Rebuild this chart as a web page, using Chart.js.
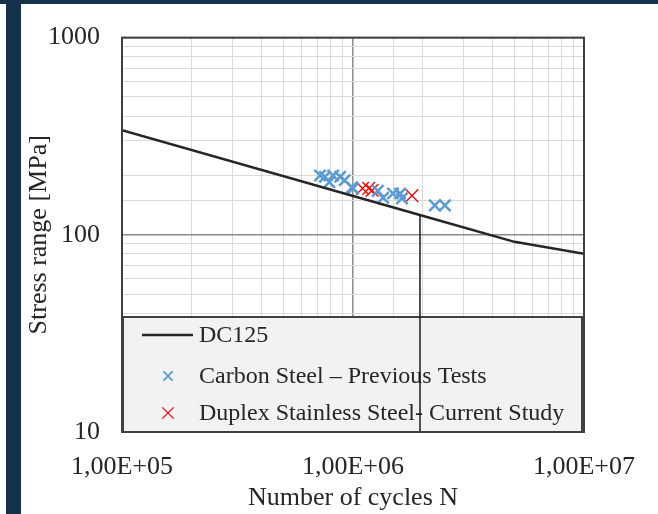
<!DOCTYPE html>
<html lang="en">
<head>
    <meta charset="UTF-8">
    <title>S-N Curve DC125</title>
    <style>
        html, body { margin: 0; padding: 0; background: #ffffff; }
        .wrap { position: relative; width: 658px; height: 514px; overflow: hidden; }
        .bar-top { position: absolute; left: 0; top: 0; width: 658px; height: 4px; background: #14324b; }
        .bar-left { position: absolute; left: 6px; top: 0; width: 15px; height: 514px; background: #14324b; }
        canvas { position: absolute; left: 0; top: 0; }
    </style>
    <script src="https://cdn.jsdelivr.net/npm/chart.js"></script>
</head>
<body>
<div class="wrap">
    <canvas id="snChart" width="658" height="514"></canvas>
    <div class="bar-top"></div>
    <div class="bar-left"></div>
</div>
<script>
    // detail category curve (N, stress range)
    const dcLabel = 'DC125';
    const dcN = [1e5, 2e6, 5e6, 1e7];
    const dcS = [339, 125, 92.1, 80.2];

    // reference line at 2 million cycles
    const refN = [1.95e6, 1.95e6];
    const refS = [126, 10];

    const carbonLabel = 'Carbon Steel – Previous Tests';
    const carbonN = [7.2e5, 7.56e5, 7.9e5, 8.2e5, 8.8e5, 9.2e5, 9.9e5, 1.0e6, 1.28e6, 1.35e6, 1.49e6, 1.6e6, 1.63e6, 2.26e6, 2.5e6];
    const carbonS = [200, 197, 185, 200, 197, 189, 174, 172, 167, 154, 162, 162, 153, 141, 141];

    const duplexLabel = 'Duplex Stainless Steel- Current Study';
    const duplexN = [1.1e6, 1.17e6, 1.21e6, 1.8e6];
    const duplexS = [172, 172, 168, 158];

    const xTickValues = [1e5, 1e6, 1e7];
    const xTickLabels = ['1,00E+05', '1,00E+06', '1,00E+07'];
    const yTickValues = [10, 100, 1000];
    const yTickLabels = ['10', '100', '1000'];

    const pts = (xs, ys) => xs.map((x, i) => ({ x: x, y: ys[i] }));
    const isMajor = (v, list) => list.some(m => Math.abs(v / m - 1) < 1e-6);

    const serif = "'Liberation Serif', 'Times New Roman', serif";
    const textColor = '#262626';

    // legend drawn inside the plot area, under the datasets
    const boxLegend = {
        id: 'boxLegend',
        beforeDatasetsDraw(chart) {
            const ctx = chart.ctx;
            const a = chart.chartArea;
            const x0 = a.left + 1, y0 = 317, x1 = a.right - 2, y1 = a.bottom;
            ctx.save();
            ctx.fillStyle = '#f2f2f2';
            ctx.fillRect(x0, y0, x1 - x0, y1 - y0);
            ctx.strokeStyle = '#404040';
            ctx.lineWidth = 2;
            ctx.strokeRect(x0, y0, x1 - x0, y1 - y0);

            const ds = chart.data.datasets;
            const rows = [335, 376, 413];
            ctx.font = '24px ' + serif;
            ctx.textBaseline = 'middle';
            for (let i = 0; i < 3; i++) {
                const d = ds[i];
                const y = rows[i];
                if (i === 0) {
                    ctx.strokeStyle = d.borderColor;
                    ctx.lineWidth = 2.5;
                    ctx.beginPath();
                    ctx.moveTo(142, y);
                    ctx.lineTo(193, y);
                    ctx.stroke();
                } else {
                    const r = i === 1 ? 6.5 : 8;
                    ctx.strokeStyle = d.borderColor;
                    ctx.lineWidth = i === 1 ? 1.8 : 1.2;
                    ctx.beginPath();
                    ctx.moveTo(168 - r * 0.707, y - r * 0.707);
                    ctx.lineTo(168 + r * 0.707, y + r * 0.707);
                    ctx.moveTo(168 - r * 0.707, y + r * 0.707);
                    ctx.lineTo(168 + r * 0.707, y - r * 0.707);
                    ctx.stroke();
                }
                ctx.fillStyle = textColor;
                ctx.fillText(d.label, 199, y + 1);
            }
            ctx.restore();
        },
        afterDraw(chart) {
            const ctx = chart.ctx;
            const a = chart.chartArea;
            ctx.save();
            ctx.strokeStyle = '#404040';
            ctx.lineWidth = 2;
            ctx.strokeRect(a.left, a.top, a.right - a.left, a.bottom - a.top);
            ctx.restore();
        }
    };

    new Chart(document.getElementById('snChart'), {
        type: 'scatter',
        data: {
            datasets: [
                {
                    type: 'line',
                    label: dcLabel,
                    data: pts(dcN, dcS),
                    borderColor: '#262626',
                    borderWidth: 2.5,
                    pointRadius: 0,
                    tension: 0
                },
                {
                    label: carbonLabel,
                    data: pts(carbonN, carbonS),
                    pointStyle: 'crossRot',
                    pointRadius: 8,
                    pointHoverRadius: 8,
                    borderColor: '#5b9bd5',
                    backgroundColor: '#5b9bd5',
                    pointBorderWidth: 2.5
                },
                {
                    label: duplexLabel,
                    data: pts(duplexN, duplexS),
                    pointStyle: 'crossRot',
                    pointRadius: 9,
                    pointHoverRadius: 9,
                    borderColor: '#ff0000',
                    backgroundColor: '#ff0000',
                    pointBorderWidth: 1.3
                },
                {
                    type: 'line',
                    label: 'ref',
                    data: pts(refN, refS),
                    borderColor: '#1a1a1a',
                    borderWidth: 1.5,
                    pointRadius: 0
                }
            ]
        },
        options: {
            responsive: false,
            animation: false,
            layout: { padding: { left: 0, top: 37, right: 74, bottom: 0 } },
            plugins: {
                legend: { display: false },
                tooltip: { enabled: false }
            },
            scales: {
                x: {
                    type: 'logarithmic',
                    min: 1e5,
                    max: 1e7,
                    afterFit: s => { s.height = 82; },
                    grid: {
                        drawTicks: false,
                        color: c => isMajor(c.tick.value, xTickValues) ? '#8c8c8c' : '#d9d9d9',
                        lineWidth: c => isMajor(c.tick.value, xTickValues) ? 1.5 : 1
                    },
                    border: { display: false },
                    ticks: {
                        autoSkip: false,
                        maxRotation: 0,
                        padding: 20,
                        color: textColor,
                        font: { family: serif, size: 26 },
                        callback: v => {
                            const i = xTickValues.findIndex(m => Math.abs(v / m - 1) < 1e-6);
                            return i >= 0 ? xTickLabels[i] : '';
                        }
                    },
                    title: {
                        display: true,
                        text: 'Number of cycles N',
                        color: textColor,
                        font: { family: serif, size: 26 },
                        padding: { top: 0, bottom: 0 }
                    }
                },
                y: {
                    type: 'logarithmic',
                    min: 10,
                    max: 1000,
                    afterFit: s => { s.width = 122; },
                    grid: {
                        drawTicks: false,
                        color: c => isMajor(c.tick.value, yTickValues) ? '#8c8c8c' : '#d9d9d9',
                        lineWidth: c => isMajor(c.tick.value, yTickValues) ? 1.5 : 1
                    },
                    border: { display: false },
                    ticks: {
                        autoSkip: false,
                        padding: 22,
                        color: textColor,
                        font: { family: serif, size: 26 },
                        callback: v => {
                            const i = yTickValues.findIndex(m => Math.abs(v / m - 1) < 1e-6);
                            return i >= 0 ? yTickLabels[i] : '';
                        }
                    },
                    title: {
                        display: true,
                        text: 'Stress range [MPa]',
                        color: textColor,
                        font: { family: serif, size: 26 },
                        padding: { top: 24, bottom: 0 }
                    }
                }
            }
        },
        plugins: [boxLegend]
    });
</script>
</body>
</html>
